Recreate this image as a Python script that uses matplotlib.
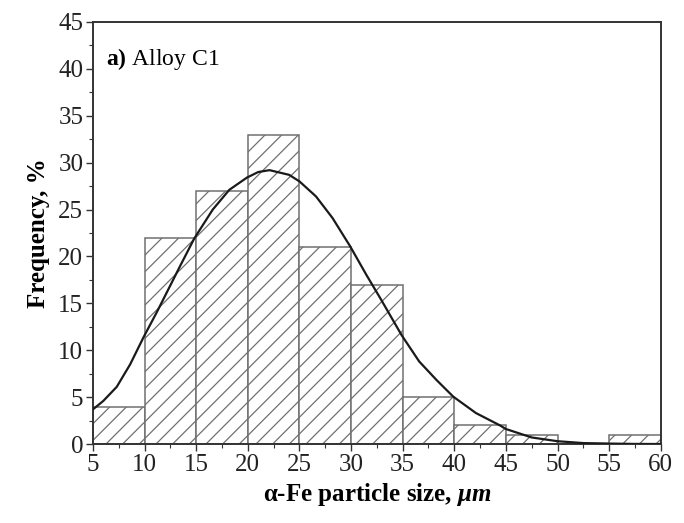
import matplotlib
matplotlib.use("Agg")
import matplotlib.pyplot as plt
from matplotlib.ticker import MultipleLocator

plt.rcParams['font.family'] = ['Liberation Serif', 'DejaVu Serif']
plt.rcParams['mathtext.fontset'] = 'custom'
plt.rcParams['mathtext.it'] = 'Liberation Serif:bold:italic'
plt.rcParams['mathtext.bf'] = 'Liberation Serif:bold'
plt.rcParams['mathtext.rm'] = 'Liberation Serif'
plt.rcParams['hatch.color'] = '#b0b0b0'
plt.rcParams['hatch.linewidth'] = 0.9

# Histogram data (bin left edges, width 5 um)
bin_edges = [5, 10, 15, 20, 25, 30, 35, 40, 45, 50, 55]
frequency = [4, 22, 27, 33, 21, 17, 5, 2, 1, 0, 1]

# Fitted distribution curve
curve_x = [5.0, 6.0, 7.3, 8.6, 9.9, 11.2, 12.3, 13.4, 14.8, 16.6, 18.2, 19.9,
           21.0, 22.1, 24.0, 25.0, 26.6, 28.2, 29.9, 31.5, 32.8, 34.9, 36.6,
           38.3, 39.9, 42.1, 44.4, 45.0, 47.5, 50.0, 52.5, 55.0, 57.5, 60.0]
curve_y = [3.7, 4.6, 6.1, 8.5, 11.4, 14.1, 16.5, 18.9, 21.9, 25.0, 27.1, 28.4,
           29.0, 29.2, 28.7, 28.0, 26.4, 24.1, 21.1, 18.0, 15.6, 11.6, 8.8,
           6.8, 5.05, 3.3, 2.0, 1.6, 0.7, 0.3, 0.1, 0.05, 0.01, 0.0]

fig = plt.figure(figsize=(6.84, 5.23), dpi=100)
ax = fig.add_axes([0.136, 0.151, 0.830, 0.807])

ax.bar(bin_edges, frequency, width=5, align='edge', facecolor='white',
       edgecolor='#707070', linewidth=1.1, hatch='//', zorder=2)
ax.plot(curve_x, curve_y, color='#1a1a1a', linewidth=1.6, zorder=3)

ax.set_xlim(5, 60)
ax.set_ylim(0, 45)
ax.xaxis.set_major_locator(MultipleLocator(5))
ax.xaxis.set_minor_locator(MultipleLocator(2.5))
ax.yaxis.set_major_locator(MultipleLocator(5))
ax.yaxis.set_minor_locator(MultipleLocator(2.5))
ax.tick_params(which='major', direction='out', length=5, width=1.0, labelsize=18,
               color='#333333', labelcolor='#222222')
ax.tick_params(which='minor', direction='out', length=3, width=0.8, color='#333333')
ax.tick_params(axis='x', pad=2)
ax.tick_params(axis='y', pad=2)
for s in ax.spines.values():
    s.set_linewidth(1.4)
    s.set_color('#333333')

ax.set_xlabel('α-Fe particle size, $μm$', fontsize=18, fontweight='bold', labelpad=4)
ax.set_ylabel('Frequency, %', fontsize=18, fontweight='bold', labelpad=6)

ax.text(6.3, 41.0, r'$\mathbf{a)}$ Alloy C1', fontsize=17, va='center', ha='left')

fig.savefig('out.png', dpi=100)
